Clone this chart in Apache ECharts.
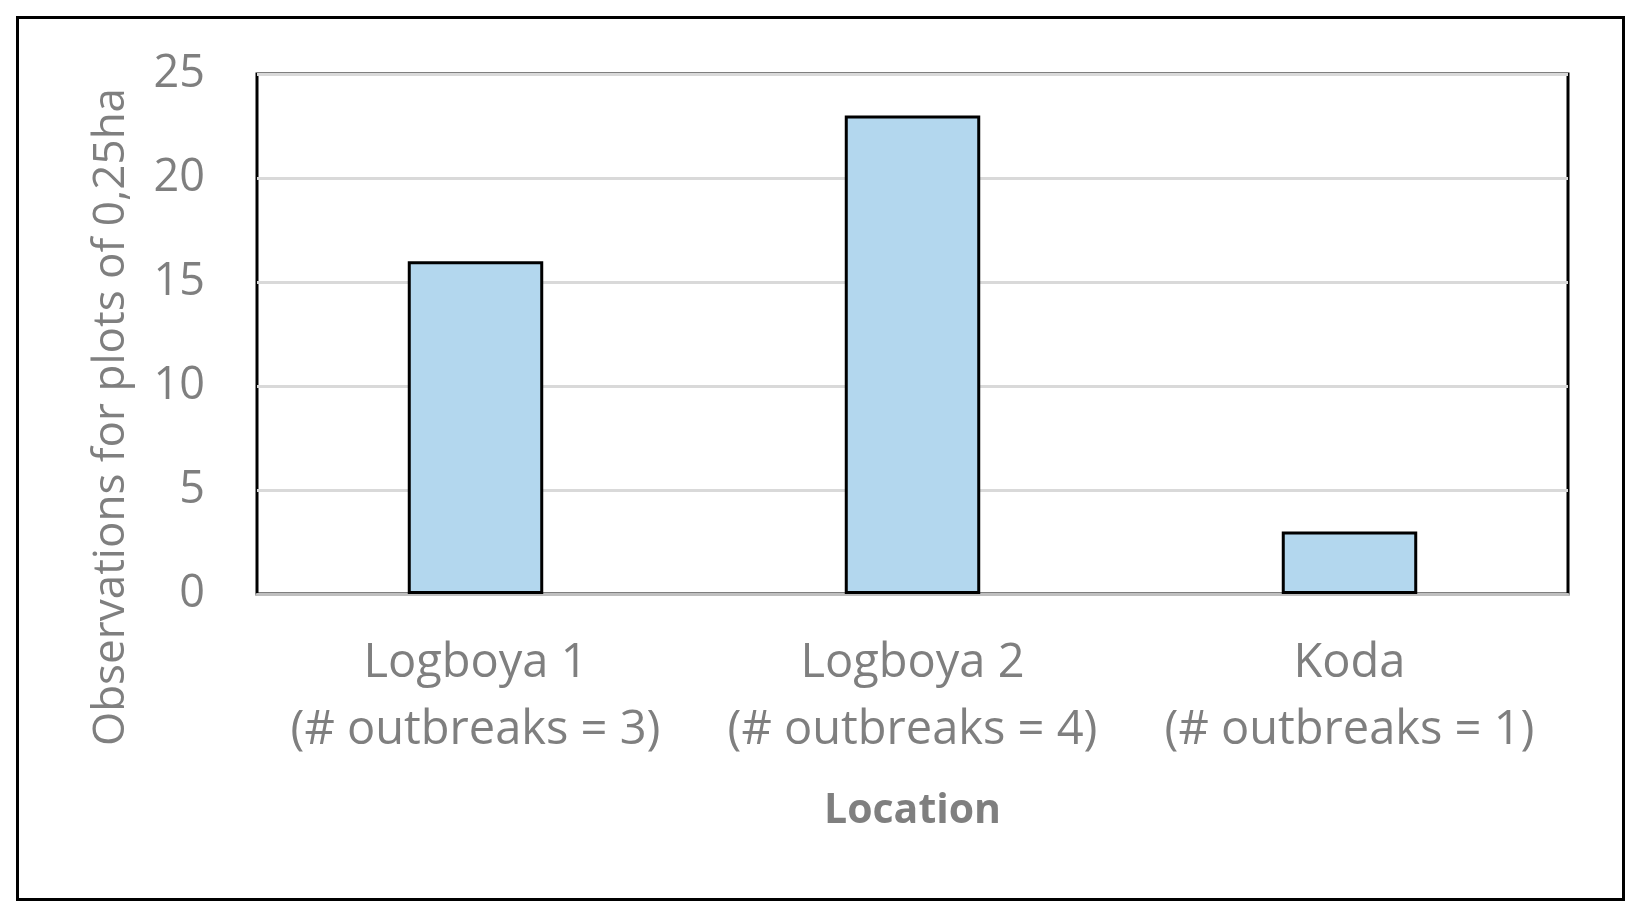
<!DOCTYPE html>
<html>
<head>
<meta charset="utf-8">
<script src="https://cdn.jsdelivr.net/npm/echarts@6/dist/echarts.min.js"></script>
<style>
  html, body { margin: 0; padding: 0; background: #fff; }
  #chart { width: 1639px; height: 918px; }
</style>
</head>
<body>
<div id="chart"></div>
<script>
// data
const categories = ['Logboya 1\n(# outbreaks = 3)', 'Logboya 2\n(# outbreaks = 4)', 'Koda\n(# outbreaks = 1)']
const observations = [16, 23, 3]
const yTicks = { min: 0, max: 25, interval: 5 }

const textGrey = '#7f7f7f'
const fontFamily = '"Open Sans", sans-serif'

const chart = echarts.init(document.getElementById('chart'))
chart.setOption({
  backgroundColor: '#fff',
  animation: false,
  graphic: [
    {
      type: 'rect',
      shape: { x: 17.5, y: 17.5, width: 1606, height: 882 },
      style: { fill: 'none', stroke: '#000', lineWidth: 3 },
      z: 100
    }
  ],
  grid: {
    left: 257,
    top: 74,
    right: 71,
    bottom: 324,
    show: true,
    borderColor: '#000',
    borderWidth: 3
  },
  xAxis: {
    type: 'category',
    data: categories,
    name: 'Location',
    nameLocation: 'middle',
    nameGap: 197,
    nameTextStyle: { color: textGrey, fontSize: 41, fontWeight: 'bold', fontFamily },
    axisTick: { show: false },
    axisLine: { lineStyle: { color: '#bfbfbf', width: 3 } },
    axisLabel: {
      interval: 0,
      hideOverlap: false,
      color: textGrey,
      fontSize: 47,
      lineHeight: 67,
      margin: 36,
      fontFamily
    }
  },
  yAxis: {
    type: 'value',
    min: yTicks.min,
    max: yTicks.max,
    interval: yTicks.interval,
    name: 'Observations for plots of 0,25ha',
    nameLocation: 'middle',
    nameGap: 124,
    // push the title down along its reading direction, as in the original
    nameTextStyle: { color: textGrey, fontSize: 44, fontFamily, padding: [0, 166, 0, 0] },
    axisLine: { show: false },
    axisTick: { show: false },
    axisLabel: { color: textGrey, fontSize: 45, margin: 52, fontFamily },
    splitLine: { lineStyle: { color: '#d9d9d9', width: 3 } }
  },
  series: [
    {
      type: 'bar',
      data: observations,
      barWidth: '31%',
      itemStyle: { color: '#b3d7ee', borderColor: '#000', borderWidth: 3 }
    }
  ]
})
</script>
</body>
</html>
